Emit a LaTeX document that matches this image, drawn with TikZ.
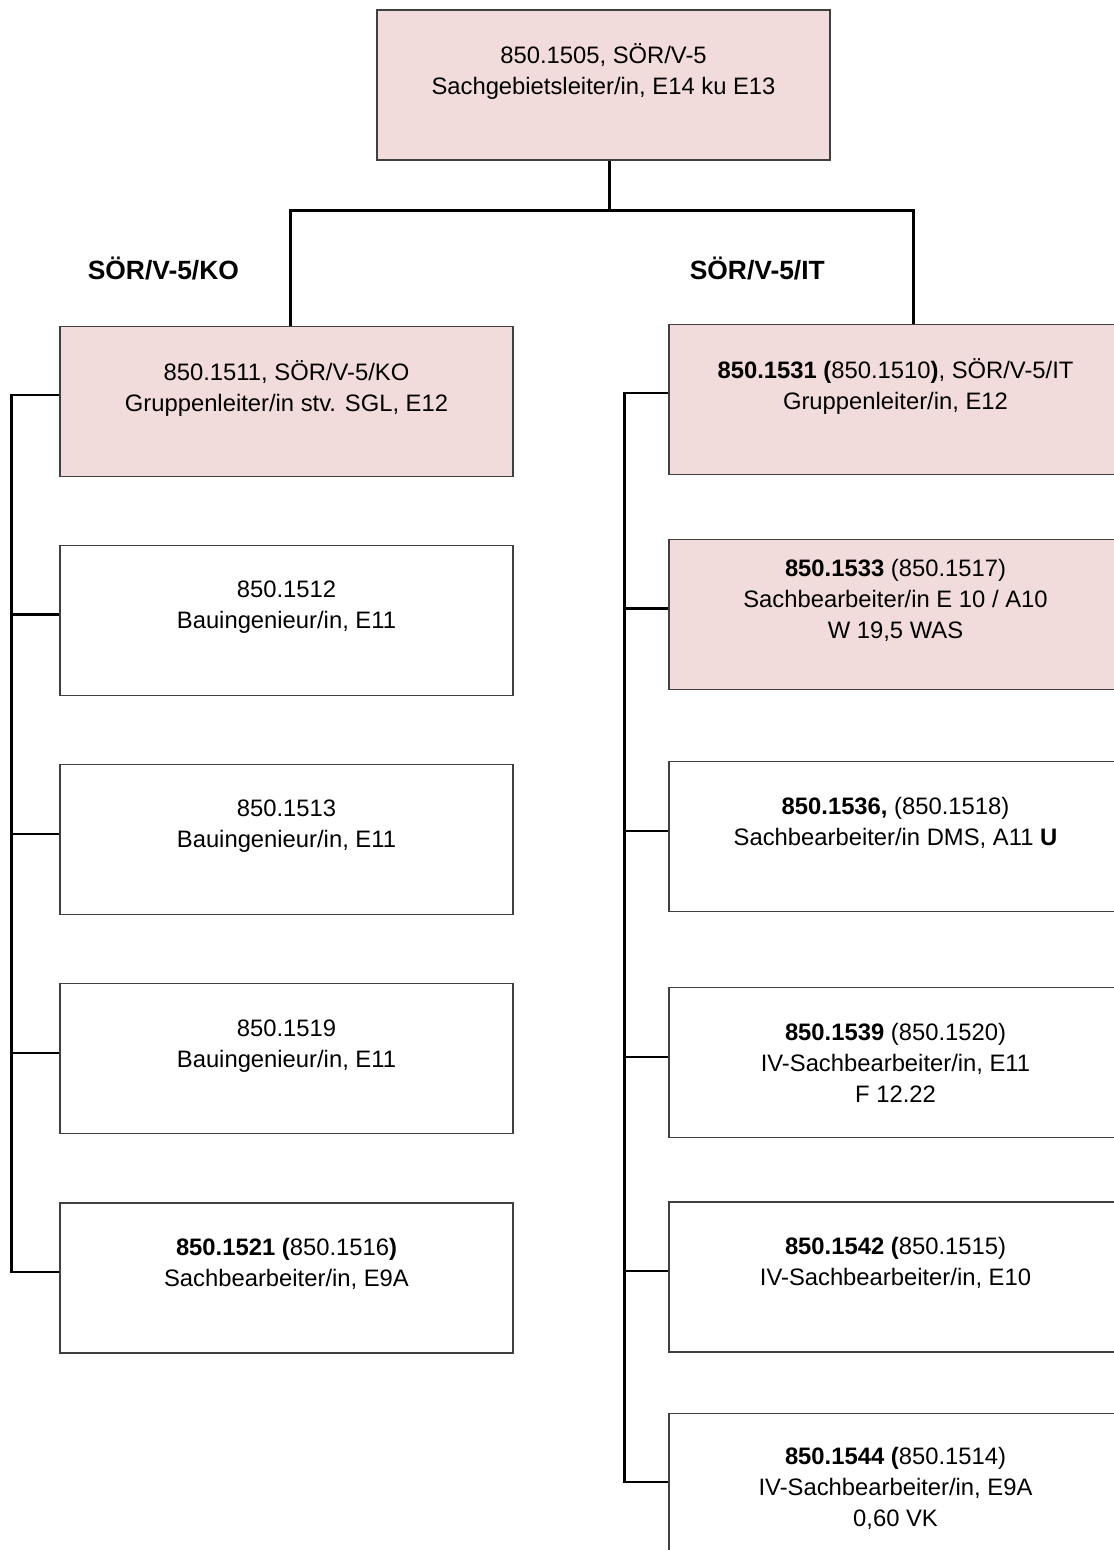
\documentclass[tikz,border=0pt]{standalone}
\usepackage{fontspec}
\setmainfont{Liberation Sans}
\usepackage{tikz}
\usetikzlibrary{positioning}
\definecolor{rosa}{RGB}{242, 220, 219}
\tikzstyle{post} = [rectangle, draw=black!75, line width=0.6pt, fill=white, minimum width=226.5pt, minimum height=75pt, inner sep=0pt, align=center, font=\fontsize{11.9pt}{15.5pt}\selectfont]
\tikzstyle{lead} = [post, fill=rosa]
\tikzstyle{team} = [draw=none, fill=none, inner sep=0pt, font=\fontsize{13.2pt}{16pt}\selectfont\bfseries]
\tikzstyle{link} = [draw, line width=1.1pt]

\begin{document}
\begin{tikzpicture}

\useasboundingbox (0,0) rectangle (556.5pt,-775pt);

% head =============================
\node[lead] (sgl) at (301.75pt,-42.5pt) {850.1505, SÖR/V-5\\Sachgebietsleiter/in, E14 ku E13\\~};

% KO group
\node[lead, below=82.5pt of sgl, xshift=-158.5pt] (kolead) {850.1511, SÖR/V-5/KO\\Gruppenleiter/in stv. SGL, E12\\~};
\node[post, below=34pt of kolead] (ko1512) {850.1512\\Bauingenieur/in, E11\\~};
\node[post, below=34pt of ko1512] (ko1513) {850.1513\\Bauingenieur/in, E11\\~};
\node[post, below=34pt of ko1513] (ko1519) {850.1519\\Bauingenieur/in, E11\\~};
\node[post, below=34pt of ko1519] (ko1521) {\textbf{850.1521 (}850.1516\textbf{)}\\Sachbearbeiter/in, E9A\\~};
\node[team, above right=22.5pt and 14pt of kolead.north west] (kohead) {SÖR/V-5/KO};

% IT group
\node[lead, below=81.5pt of sgl, xshift=146pt] (itlead) {\textbf{850.1531 (}850.1510\textbf{)}, SÖR/V-5/IT\\Gruppenleiter/in, E12\\~};
\node[lead, below=32pt of itlead] (it1533) {\textbf{850.1533} (850.1517)\\Sachbearbeiter/in E 10 / A10\\W 19,5 WAS\\~};
\node[post, below=35.5pt of it1533] (it1536) {\textbf{850.1536,} (850.1518)\\Sachbearbeiter/in DMS, A11 \textbf{U}\\~};
\node[post, below=37.5pt of it1536] (it1539) {\textbf{850.1539} (850.1520)\\IV-Sachbearbeiter/in, E11\\F 12.22};
\node[post, below=31.5pt of it1539] (it1542) {\textbf{850.1542 (}850.1515)\\IV-Sachbearbeiter/in, E10\\~};
\node[post, below=30pt of it1542] (it1544) {\textbf{850.1544 (}850.1514)\\IV-Sachbearbeiter/in, E9A\\0,60 VK};
\node[team, above right=21.5pt and 10.5pt of itlead.north west] (ithead) {SÖR/V-5/IT};

% edges
\coordinate[below=25pt of sgl, xshift=3pt] (bus);
\coordinate[left=24pt of kolead] (kospine);
\coordinate[left=22pt of itlead] (itspine);
\draw[link] ([xshift=3pt]sgl.south) -- (bus);
\draw[link] ([xshift=2pt]kolead.north) |- (bus) -| ([xshift=9pt]itlead.north);

\draw[link] ([yshift=3pt]kolead.west) -- ([yshift=3pt]kolead.west -| kospine) -- ([yshift=3pt]ko1521.west -| kospine) -- ([yshift=3pt]ko1521.west);
\draw[link] ([yshift=3pt]ko1512.west) -- ([yshift=3pt]ko1512.west -| kospine);
\draw[link] ([yshift=3pt]ko1513.west) -- ([yshift=3pt]ko1513.west -| kospine);
\draw[link] ([yshift=3pt]ko1519.west) -- ([yshift=3pt]ko1519.west -| kospine);

\draw[link] ([yshift=3pt]itlead.west) -- ([yshift=3pt]itlead.west -| itspine) -- ([yshift=3pt]it1544.west -| itspine) -- ([yshift=3pt]it1544.west);
\draw[link] ([yshift=3pt]it1533.west) -- ([yshift=3pt]it1533.west -| itspine);
\draw[link] ([yshift=3pt]it1536.west) -- ([yshift=3pt]it1536.west -| itspine);
\draw[link] ([yshift=3pt]it1539.west) -- ([yshift=3pt]it1539.west -| itspine);
\draw[link] ([yshift=3pt]it1542.west) -- ([yshift=3pt]it1542.west -| itspine);

\end{tikzpicture}
\end{document}
